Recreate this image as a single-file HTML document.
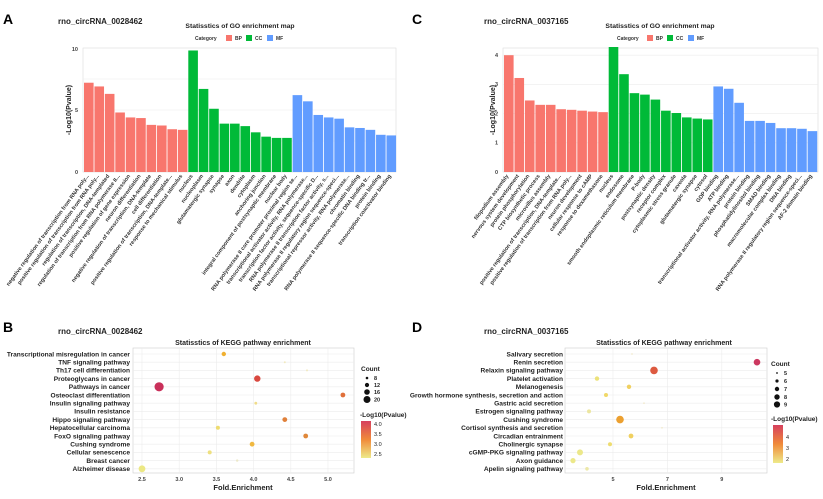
<!DOCTYPE html>
<html><head><meta charset="utf-8"><style>
html,body{margin:0;padding:0;background:#fff;}
svg{display:block;font-family:"Liberation Sans",Arial,sans-serif;}
.lb{font-size:5.5px;font-weight:bold;fill:#333;text-anchor:end;}
.yl{font-size:6.6px;font-weight:bold;fill:#222;text-anchor:end;}
.tk{font-size:5.5px;font-weight:bold;fill:#444;}
.g{stroke:#ececec;stroke-width:0.6;}
</style></head><body>
<svg width="823" height="499" viewBox="0 0 823 499" xmlns="http://www.w3.org/2000/svg">
<text x="3" y="24" font-size="14" font-weight="bold">A</text>
<text x="412" y="24" font-size="14" font-weight="bold">C</text>
<text x="3" y="332" font-size="14" font-weight="bold">B</text>
<text x="412" y="332" font-size="14" font-weight="bold">D</text>

<!-- ===== Panel A ===== -->
<text x="58" y="24" font-size="8" font-weight="bold" fill="#222">rno_circRNA_0028462</text>
<text x="240" y="28" font-size="6.8" font-weight="bold" text-anchor="middle" fill="#222">Statisstics of GO enrichment map</text>
<g font-size="5" font-weight="bold" fill="#333">
<text x="195" y="40">Category</text>
<rect x="226" y="35" width="6" height="6" fill="#F8766D"/><text x="235" y="40">BP</text>
<rect x="246" y="35" width="6" height="6" fill="#00BA38"/><text x="255" y="40">CC</text>
<rect x="267" y="35" width="6" height="6" fill="#619CFF"/><text x="276" y="40">MF</text>
</g>
<rect x="83" y="48" width="313" height="124" fill="#fff" stroke="#ddd" stroke-width="0.6"/>
<g class="g"><line x1="83" x2="396" y1="141" y2="141"/><line x1="83" x2="396" y1="110" y2="110"/><line x1="83" x2="396" y1="79" y2="79"/></g>
<text x="78" y="51" class="tk" text-anchor="end">10</text>
<text x="78" y="112" class="tk" text-anchor="end">5</text>
<text x="78" y="174" class="tk" text-anchor="end">0</text>
<text transform="translate(71,110) rotate(-90)" font-size="7" font-weight="bold" text-anchor="middle" fill="#222">-Log10(Pvalue)</text>
<g transform="translate(84,172) scale(1,-12.4)">
<g fill="#F8766D">
<rect x="0" width="9.6" height="7.2"/><rect x="10.43" width="9.6" height="6.9"/><rect x="20.86" width="9.6" height="6.3"/><rect x="31.29" width="9.6" height="4.8"/><rect x="41.72" width="9.6" height="4.4"/><rect x="52.15" width="9.6" height="4.35"/><rect x="62.58" width="9.6" height="3.8"/><rect x="73.01" width="9.6" height="3.75"/><rect x="83.44" width="9.6" height="3.45"/><rect x="93.87" width="9.6" height="3.4"/>
</g>
<g fill="#00BA38">
<rect x="104.3" width="9.6" height="9.8"/><rect x="114.73" width="9.6" height="6.7"/><rect x="125.16" width="9.6" height="5.1"/><rect x="135.59" width="9.6" height="3.9"/><rect x="146.02" width="9.6" height="3.9"/><rect x="156.45" width="9.6" height="3.7"/><rect x="166.88" width="9.6" height="3.2"/><rect x="177.31" width="9.6" height="2.85"/><rect x="187.74" width="9.6" height="2.75"/><rect x="198.17" width="9.6" height="2.75"/>
</g>
<g fill="#619CFF">
<rect x="208.6" width="9.6" height="6.2"/><rect x="219.03" width="9.6" height="5.7"/><rect x="229.46" width="9.6" height="4.6"/><rect x="239.89" width="9.6" height="4.4"/><rect x="250.32" width="9.6" height="4.3"/><rect x="260.75" width="9.6" height="3.6"/><rect x="271.18" width="9.6" height="3.55"/><rect x="281.61" width="9.6" height="3.4"/><rect x="292.04" width="9.6" height="3.0"/><rect x="302.47" width="9.6" height="2.95"/>
</g>
</g>
<g class="lb">
<text transform="translate(89,176) rotate(-54)">negative regulation of transcription from RNA poly...</text>
<text transform="translate(99.2,176) rotate(-54)">positive regulation of transcription from RNA poly...</text>
<text transform="translate(109.7,176) rotate(-54)">regulation of transcription, DNA-templated</text>
<text transform="translate(120.1,176) rotate(-54)">regulation of transcription from RNA polymerase II...</text>
<text transform="translate(130.5,176) rotate(-54)">positive regulation of gene expression</text>
<text transform="translate(141,176) rotate(-54)">neuron differentiation</text>
<text transform="translate(151.4,176) rotate(-54)">negative regulation of transcription, DNA-template</text>
<text transform="translate(161.8,176) rotate(-54)">cell differentiation</text>
<text transform="translate(172.2,176) rotate(-54)">positive regulation of transcription, DNA-template...</text>
<text transform="translate(182.7,176) rotate(-54)">response to mechanical stimulus</text>
<text transform="translate(193.1,176) rotate(-54)">nucleus</text>
<text transform="translate(203.5,176) rotate(-54)">nucleoplasm</text>
<text transform="translate(214,176) rotate(-54)">glutamatergic synapse</text>
<text transform="translate(224.4,176) rotate(-54)">synapse</text>
<text transform="translate(234.8,176) rotate(-54)">axon</text>
<text transform="translate(245.3,176) rotate(-54)">dendrite</text>
<text transform="translate(255.7,176) rotate(-54)">cytoplasm</text>
<text transform="translate(266.1,176) rotate(-54)">anchoring junction</text>
<text transform="translate(276.5,176) rotate(-54)">integral component of postsynaptic membrane</text>
<text transform="translate(287,176) rotate(-54)">nuclear body</text>
<text transform="translate(297.4,176) rotate(-54)">RNA polymerase II core promoter proximal region se...</text>
<text transform="translate(307.8,176) rotate(-54)">transcriptional activator activity, RNA polymerase...</text>
<text transform="translate(318.3,176) rotate(-54)">transcription factor activity, sequence-specific D...</text>
<text transform="translate(328.7,176) rotate(-54)">RNA polymerase II transcription factor activity, s...</text>
<text transform="translate(339.1,176) rotate(-54)">RNA polymerase II regulatory region sequence-speci...</text>
<text transform="translate(349.6,176) rotate(-54)">transcriptional repressor activity, RNA polymerase...</text>
<text transform="translate(360,176) rotate(-54)">chromatin binding</text>
<text transform="translate(370.4,176) rotate(-54)">RNA polymerase II sequence-specific DNA binding tr...</text>
<text transform="translate(380.8,176) rotate(-54)">protein binding</text>
<text transform="translate(391.3,176) rotate(-54)">transcription coactivator binding</text>
</g>

<!-- ===== Panel C ===== -->
<text x="484" y="24" font-size="8" font-weight="bold" fill="#222">rno_circRNA_0037165</text>
<text x="660" y="28" font-size="6.8" font-weight="bold" text-anchor="middle" fill="#222">Statisstics of GO enrichment map</text>
<g font-size="5" font-weight="bold" fill="#333">
<text x="617" y="40">Category</text>
<rect x="647" y="35" width="6" height="6" fill="#F8766D"/><text x="656" y="40">BP</text>
<rect x="667" y="35" width="6" height="6" fill="#00BA38"/><text x="676" y="40">CC</text>
<rect x="688" y="35" width="6" height="6" fill="#619CFF"/><text x="697" y="40">MF</text>
</g>
<rect x="503" y="48" width="315" height="124" fill="#fff" stroke="#ddd" stroke-width="0.6"/>
<g class="g"><line x1="503" x2="818" y1="142.8" y2="142.8"/><line x1="503" x2="818" y1="113.6" y2="113.6"/><line x1="503" x2="818" y1="84.4" y2="84.4"/><line x1="503" x2="818" y1="55.2" y2="55.2"/></g>
<text x="498" y="57" class="tk" text-anchor="end">4</text>
<text x="498" y="86" class="tk" text-anchor="end">3</text>
<text x="498" y="115.5" class="tk" text-anchor="end">2</text>
<text x="498" y="144.5" class="tk" text-anchor="end">1</text>
<text x="498" y="174" class="tk" text-anchor="end">0</text>
<text transform="translate(495,110) rotate(-90)" font-size="7" font-weight="bold" text-anchor="middle" fill="#222">-Log10(Pvalue)</text>
<svg x="503" y="47" width="315" height="126" overflow="hidden"><g transform="translate(1,125) scale(1,-29.2)">
<g fill="#F8766D">
<rect x="0" width="9.6" height="4.0"/><rect x="10.47" width="9.6" height="3.22"/><rect x="20.94" width="9.6" height="2.45"/><rect x="31.41" width="9.6" height="2.3"/><rect x="41.88" width="9.6" height="2.3"/><rect x="52.35" width="9.6" height="2.15"/><rect x="62.82" width="9.6" height="2.13"/><rect x="73.29" width="9.6" height="2.1"/><rect x="83.76" width="9.6" height="2.07"/><rect x="94.23" width="9.6" height="2.05"/>
</g>
<g fill="#00BA38">
<rect x="104.7" width="9.6" height="4.4"/><rect x="115.17" width="9.6" height="3.35"/><rect x="125.64" width="9.6" height="2.7"/><rect x="136.11" width="9.6" height="2.65"/><rect x="146.58" width="9.6" height="2.48"/><rect x="157.05" width="9.6" height="2.1"/><rect x="167.52" width="9.6" height="2.02"/><rect x="177.99" width="9.6" height="1.87"/><rect x="188.46" width="9.6" height="1.83"/><rect x="198.93" width="9.6" height="1.8"/>
</g>
<g fill="#619CFF">
<rect x="209.4" width="9.6" height="2.93"/><rect x="219.87" width="9.6" height="2.85"/><rect x="230.34" width="9.6" height="2.37"/><rect x="240.81" width="9.6" height="1.75"/><rect x="251.28" width="9.6" height="1.75"/><rect x="261.75" width="9.6" height="1.68"/><rect x="272.22" width="9.6" height="1.5"/><rect x="282.69" width="9.6" height="1.5"/><rect x="293.16" width="9.6" height="1.48"/><rect x="303.63" width="9.6" height="1.4"/>
</g>
</g></svg>
<g class="lb">
<text transform="translate(508.8,176) rotate(-54)">filopodium assembly</text>
<text transform="translate(519.3,176) rotate(-54)">nervous system development</text>
<text transform="translate(529.7,176) rotate(-54)">protein phosphorylation</text>
<text transform="translate(540.2,176) rotate(-54)">CTP biosynthetic process</text>
<text transform="translate(550.7,176) rotate(-54)">microvillus assembly</text>
<text transform="translate(561.2,176) rotate(-54)">positive regulation of transcription, DNA-template...</text>
<text transform="translate(571.6,176) rotate(-54)">positive regulation of transcription from RNA poly...</text>
<text transform="translate(582.1,176) rotate(-54)">neuron development</text>
<text transform="translate(592.6,176) rotate(-54)">cellular response to cAMP</text>
<text transform="translate(603,176) rotate(-54)">response to dexamethasone</text>
<text transform="translate(613.5,176) rotate(-54)">nucleus</text>
<text transform="translate(624,176) rotate(-54)">endosome</text>
<text transform="translate(634.4,176) rotate(-54)">smooth endoplasmic reticulum membrane</text>
<text transform="translate(644.9,176) rotate(-54)">P-body</text>
<text transform="translate(655.4,176) rotate(-54)">postsynaptic density</text>
<text transform="translate(665.9,176) rotate(-54)">receptor complex</text>
<text transform="translate(676.3,176) rotate(-54)">cytoplasmic stress granule</text>
<text transform="translate(686.8,176) rotate(-54)">caveola</text>
<text transform="translate(697.3,176) rotate(-54)">glutamatergic synapse</text>
<text transform="translate(707.7,176) rotate(-54)">cytosol</text>
<text transform="translate(718.2,176) rotate(-54)">GDP binding</text>
<text transform="translate(728.7,176) rotate(-54)">ATP binding</text>
<text transform="translate(739.1,176) rotate(-54)">transcriptional activator activity, RNA polymerase...</text>
<text transform="translate(749.6,176) rotate(-54)">protein binding</text>
<text transform="translate(760.1,176) rotate(-54)">phosphatidylinositol binding</text>
<text transform="translate(770.6,176) rotate(-54)">SMAD binding</text>
<text transform="translate(781,176) rotate(-54)">macromolecular complex binding</text>
<text transform="translate(791.5,176) rotate(-54)">DNA binding</text>
<text transform="translate(802,176) rotate(-54)">RNA polymerase II regulatory region sequence-speci...</text>
<text transform="translate(812.4,176) rotate(-54)">AF-2 domain binding</text>
</g>

<defs>
<linearGradient id="cb" x1="0" y1="0" x2="0" y2="1">
<stop offset="0" stop-color="#d6405e"/><stop offset="0.5" stop-color="#f08a3a"/><stop offset="1" stop-color="#eeea8a"/>
</linearGradient>
</defs>

<!-- ===== Panel B ===== -->
<text x="58" y="334" font-size="8" font-weight="bold" fill="#222">rno_circRNA_0028462</text>
<text x="243" y="345" font-size="7" font-weight="bold" text-anchor="middle" fill="#222">Statisstics of KEGG pathway enrichment</text>
<rect x="133" y="348" width="221" height="125" fill="#fff" stroke="#ccc" stroke-width="0.6"/>
<g class="g">
<line x1="133" x2="354" y1="354" y2="354"/><line x1="133" x2="354" y1="362.2" y2="362.2"/><line x1="133" x2="354" y1="370.4" y2="370.4"/><line x1="133" x2="354" y1="378.6" y2="378.6"/><line x1="133" x2="354" y1="386.8" y2="386.8"/><line x1="133" x2="354" y1="395" y2="395"/><line x1="133" x2="354" y1="403.2" y2="403.2"/><line x1="133" x2="354" y1="411.4" y2="411.4"/><line x1="133" x2="354" y1="419.6" y2="419.6"/><line x1="133" x2="354" y1="427.8" y2="427.8"/><line x1="133" x2="354" y1="436" y2="436"/><line x1="133" x2="354" y1="444.2" y2="444.2"/><line x1="133" x2="354" y1="452.4" y2="452.4"/><line x1="133" x2="354" y1="460.6" y2="460.6"/><line x1="133" x2="354" y1="468.8" y2="468.8"/>
<line y1="348" y2="473" x1="142" x2="142"/><line y1="348" y2="473" x1="179.2" x2="179.2"/><line y1="348" y2="473" x1="216.4" x2="216.4"/><line y1="348" y2="473" x1="253.6" x2="253.6"/><line y1="348" y2="473" x1="290.8" x2="290.8"/><line y1="348" y2="473" x1="328" x2="328"/>
</g>
<g class="yl">
<text x="130" y="356.3">Transcriptional misregulation in cancer</text>
<text x="130" y="364.5">TNF signaling pathway</text>
<text x="130" y="372.7">Th17 cell differentiation</text>
<text x="130" y="380.9">Proteoglycans in cancer</text>
<text x="130" y="389.1">Pathways in cancer</text>
<text x="130" y="397.3">Osteoclast differentiation</text>
<text x="130" y="405.5">Insulin signaling pathway</text>
<text x="130" y="413.7">Insulin resistance</text>
<text x="130" y="421.9">Hippo signaling pathway</text>
<text x="130" y="430.1">Hepatocellular carcinoma</text>
<text x="130" y="438.3">FoxO signaling pathway</text>
<text x="130" y="446.5">Cushing syndrome</text>
<text x="130" y="454.7">Cellular senescence</text>
<text x="130" y="462.9">Breast cancer</text>
<text x="130" y="471.1">Alzheimer disease</text>
</g>
<g class="tk" text-anchor="middle">
<text x="142" y="481">2.5</text><text x="179.2" y="481">3.0</text><text x="216.4" y="481">3.5</text><text x="253.6" y="481">4.0</text><text x="290.8" y="481">4.5</text><text x="328" y="481">5.0</text>
</g>
<text x="243" y="490" font-size="7.5" font-weight="bold" text-anchor="middle" fill="#222">Fold.Enrichment</text>
<circle cx="223.8" cy="354" r="2.2" fill="#f0b030"/>
<circle cx="284.8" cy="362.2" r="1" fill="#f1e9c0"/>
<circle cx="307" cy="370.4" r="1" fill="#f1e9c0"/>
<circle cx="257.3" cy="378.6" r="3.2" fill="#d9483f"/>
<circle cx="159.1" cy="386.8" r="4.6" fill="#c9305a"/>
<circle cx="342.9" cy="395" r="2.4" fill="#e0703a"/>
<circle cx="255.8" cy="403.2" r="1.4" fill="#f0dc8a"/>
<circle cx="284.8" cy="419.6" r="2.4" fill="#e0803a"/>
<circle cx="217.9" cy="427.8" r="2" fill="#eedc70"/>
<circle cx="305.7" cy="436" r="2.4" fill="#e0883a"/>
<circle cx="252.1" cy="444.2" r="2.4" fill="#f0b840"/>
<circle cx="209.7" cy="452.4" r="2" fill="#eee080"/>
<circle cx="237.2" cy="460.6" r="1.2" fill="#ece8c8"/>
<circle cx="142" cy="468.8" r="3.4" fill="#ece884"/>
<g font-size="5.5" font-weight="bold" fill="#222">
<text x="361" y="371" font-size="6.5">Count</text>
<circle cx="367" cy="378" r="1.3" fill="#111"/><text x="374" y="380">8</text>
<circle cx="367" cy="385" r="2.1" fill="#111"/><text x="374" y="387">12</text>
<circle cx="367" cy="392" r="2.8" fill="#111"/><text x="374" y="394">16</text>
<circle cx="367" cy="399.5" r="3.5" fill="#111"/><text x="374" y="401.5">20</text>
<text x="360" y="417" font-size="6.5">-Log10(Pvalue)</text>
<rect x="361" y="421" width="10" height="37" fill="url(#cb)"/>
<text x="374" y="426" font-weight="normal">4.0</text>
<text x="374" y="436" font-weight="normal">3.5</text>
<text x="374" y="446" font-weight="normal">3.0</text>
<text x="374" y="456" font-weight="normal">2.5</text>
</g>

<!-- ===== Panel D ===== -->
<text x="484" y="334" font-size="8" font-weight="bold" fill="#222">rno_circRNA_0037165</text>
<text x="664" y="345" font-size="7" font-weight="bold" text-anchor="middle" fill="#222">Statisstics of KEGG pathway enrichment</text>
<rect x="565" y="348" width="202" height="125" fill="#fff" stroke="#ccc" stroke-width="0.6"/>
<g class="g">
<line x1="565" x2="767" y1="354" y2="354"/><line x1="565" x2="767" y1="362.2" y2="362.2"/><line x1="565" x2="767" y1="370.4" y2="370.4"/><line x1="565" x2="767" y1="378.6" y2="378.6"/><line x1="565" x2="767" y1="386.8" y2="386.8"/><line x1="565" x2="767" y1="395" y2="395"/><line x1="565" x2="767" y1="403.2" y2="403.2"/><line x1="565" x2="767" y1="411.4" y2="411.4"/><line x1="565" x2="767" y1="419.6" y2="419.6"/><line x1="565" x2="767" y1="427.8" y2="427.8"/><line x1="565" x2="767" y1="436" y2="436"/><line x1="565" x2="767" y1="444.2" y2="444.2"/><line x1="565" x2="767" y1="452.4" y2="452.4"/><line x1="565" x2="767" y1="460.6" y2="460.6"/><line x1="565" x2="767" y1="468.8" y2="468.8"/>
<line y1="348" y2="473" x1="613" x2="613"/><line y1="348" y2="473" x1="667.4" x2="667.4"/><line y1="348" y2="473" x1="721.8" x2="721.8"/>
</g>
<g class="yl">
<text x="563" y="356.3">Salivary secretion</text>
<text x="563" y="364.5">Renin secretion</text>
<text x="563" y="372.7">Relaxin signaling pathway</text>
<text x="563" y="380.9">Platelet activation</text>
<text x="563" y="389.1">Melanogenesis</text>
<text x="563" y="397.3">Growth hormone synthesis, secretion and action</text>
<text x="563" y="405.5">Gastric acid secretion</text>
<text x="563" y="413.7">Estrogen signaling pathway</text>
<text x="563" y="421.9">Cushing syndrome</text>
<text x="563" y="430.1">Cortisol synthesis and secretion</text>
<text x="563" y="438.3">Circadian entrainment</text>
<text x="563" y="446.5">Cholinergic synapse</text>
<text x="563" y="454.7">cGMP-PKG signaling pathway</text>
<text x="563" y="462.9">Axon guidance</text>
<text x="563" y="471.1">Apelin signaling pathway</text>
</g>
<g class="tk" text-anchor="middle">
<text x="613" y="481">5</text><text x="667.4" y="481">7</text><text x="721.8" y="481">9</text>
</g>
<text x="666" y="490" font-size="7.5" font-weight="bold" text-anchor="middle" fill="#222">Fold.Enrichment</text>
<circle cx="632" cy="354" r="0.9" fill="#f1ead0"/>
<circle cx="757" cy="362.2" r="3.3" fill="#cc3860"/>
<circle cx="654" cy="370.4" r="3.8" fill="#dd5a40"/>
<circle cx="597" cy="378.6" r="2.2" fill="#ece27a"/>
<circle cx="629" cy="386.8" r="2.2" fill="#f0d060"/>
<circle cx="606" cy="395" r="2" fill="#f0d868"/>
<circle cx="644" cy="403.2" r="0.9" fill="#f1ead0"/>
<circle cx="589" cy="411.4" r="2" fill="#ece6a0"/>
<circle cx="620" cy="419.6" r="3.8" fill="#eca030"/>
<circle cx="662" cy="427.8" r="0.9" fill="#f1ead0"/>
<circle cx="631" cy="436" r="2.4" fill="#f0d060"/>
<circle cx="610" cy="444.2" r="2" fill="#eedc70"/>
<circle cx="580" cy="452.4" r="3" fill="#ece88a"/>
<circle cx="573" cy="460.6" r="2.6" fill="#ece88a"/>
<circle cx="587" cy="468.8" r="1.8" fill="#ece8a8"/>
<g font-size="5.5" font-weight="bold" fill="#222">
<text x="771" y="366" font-size="6.5">Count</text>
<circle cx="777" cy="373" r="0.9" fill="#111"/><text x="784" y="375">5</text>
<circle cx="777" cy="381" r="1.6" fill="#111"/><text x="784" y="383">6</text>
<circle cx="777" cy="389" r="2.2" fill="#111"/><text x="784" y="391">7</text>
<circle cx="777" cy="397" r="2.7" fill="#111"/><text x="784" y="399">8</text>
<circle cx="777" cy="404.5" r="3.1" fill="#111"/><text x="784" y="406.5">9</text>
<text x="771" y="421" font-size="6.5">-Log10(Pvalue)</text>
<rect x="773" y="425" width="10" height="38" fill="url(#cb)"/>
<text x="786" y="439" font-weight="normal">4</text>
<text x="786" y="450" font-weight="normal">3</text>
<text x="786" y="461" font-weight="normal">2</text>
</g>
</svg>
</body></html>
